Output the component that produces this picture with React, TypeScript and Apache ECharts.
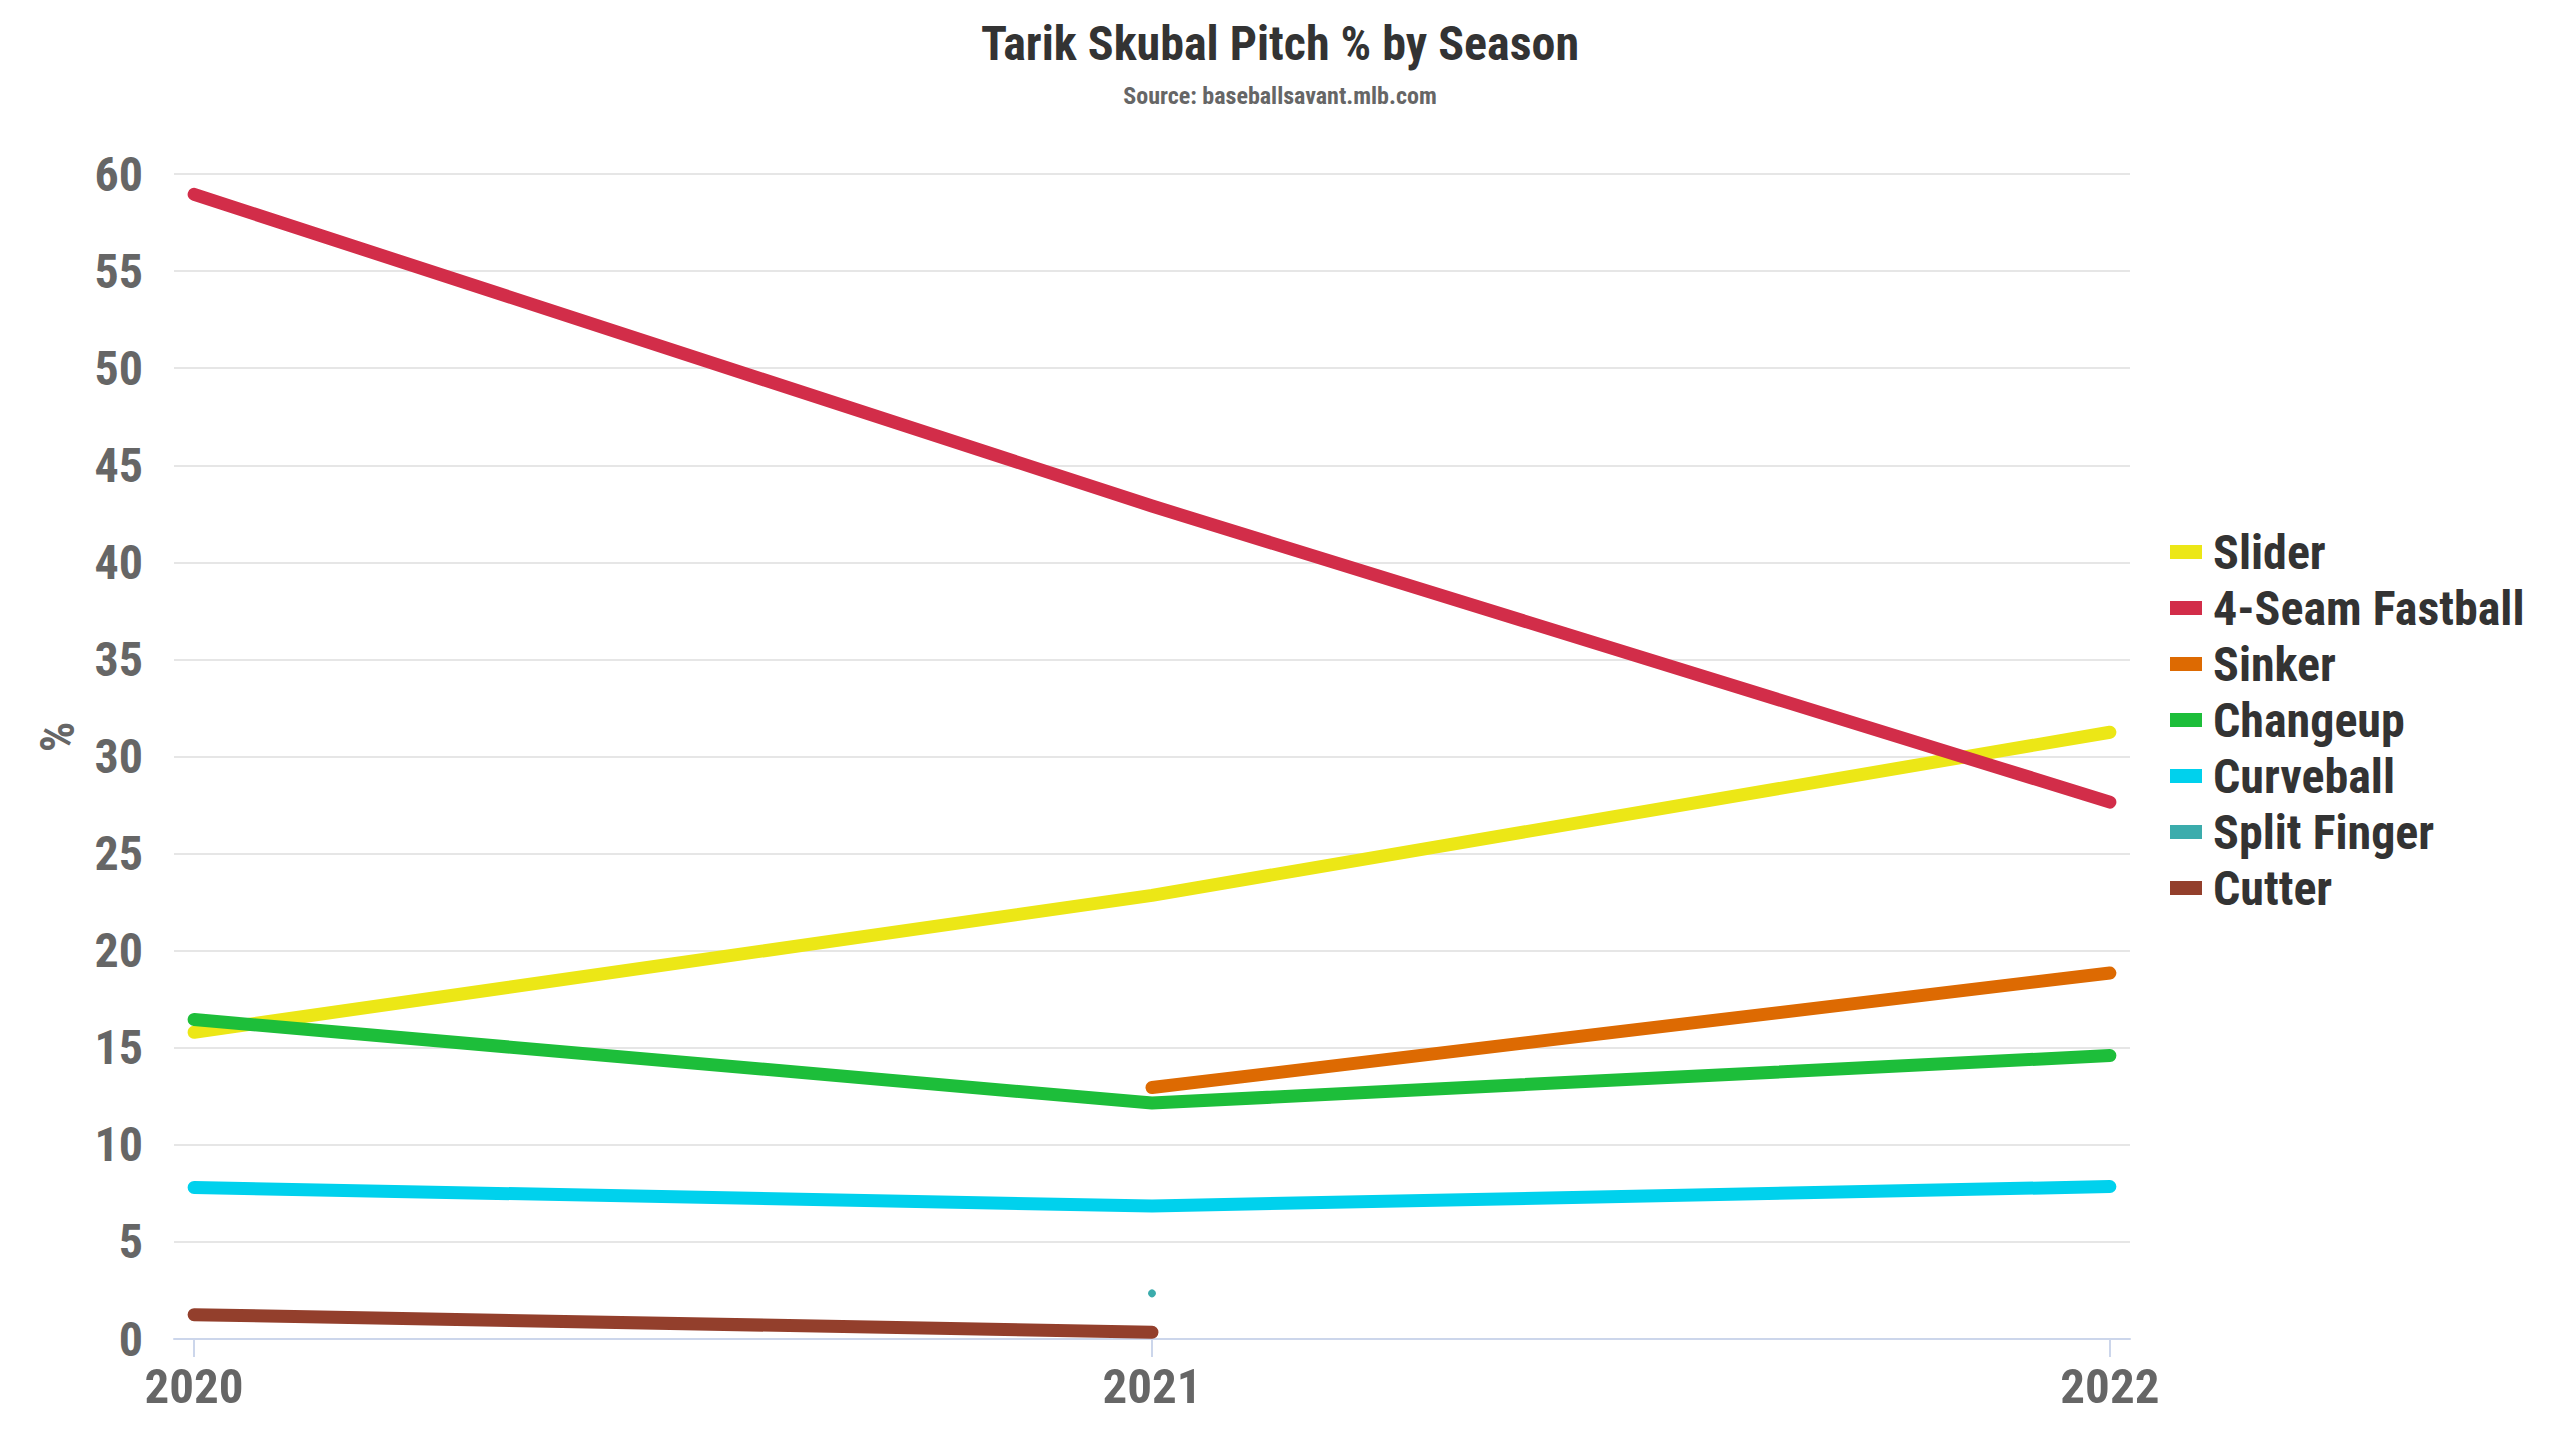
import React, { useEffect, useRef } from "react";
import * as echarts from "echarts";

const TITLE = "Tarik Skubal Pitch % by Season";
const SUBTITLE = "Source: baseballsavant.mlb.com";
const Y_NAME = "%";

const years = [2020, 2021, 2022];
const seriesNames = ["Slider", "4-Seam Fastball", "Sinker", "Changeup", "Curveball", "Split Finger", "Cutter"];
const seriesColors = ["#ece716", "#d22d49", "#dd6a02", "#1dbe3a", "#00d1ed", "#3bacac", "#933f2c"];

const slider = [15.8, 22.85, 31.25];
const fourSeam = [58.95, 42.9, 27.65];
const sinker = [null, 12.95, 18.85];
const changeup = [16.45, 12.15, 14.6];
const curveball = [7.8, 6.85, 7.85];
const splitFinger = [null, 2.35, null];
const cutter = [1.25, 0.35, null];

const seriesValues = [slider, fourSeam, sinker, changeup, curveball, splitFinger, cutter];

const FONT = '"Roboto Condensed", "Liberation Sans Narrow", "DejaVu Sans Condensed", "Arial Narrow", Roboto, sans-serif';

export default function App() {
  const ref = useRef<HTMLDivElement>(null);

  useEffect(() => {
    document.body.style.margin = "0";
    const chart = echarts.init(ref.current!, undefined, { renderer: "svg" });

    const series = seriesNames.map((name, i) => {
      const pts = years
        .map((y, j) => [y, seriesValues[i][j]])
        .filter((p) => p[1] !== null);
      const single = pts.length === 1;
      return {
        name,
        type: "line",
        data: pts,
        color: seriesColors[i],
        showSymbol: single,
        symbol: "circle",
        symbolSize: 8,
        lineStyle: { width: 13, color: seriesColors[i], cap: "round", join: "round" },
        itemStyle: { color: seriesColors[i] },
        emphasis: { disabled: true },
        z: 2,
      };
    });

    chart.setOption({
      animation: false,
      backgroundColor: "#ffffff",
      textStyle: { fontFamily: FONT },
      title: {
        text: TITLE,
        subtext: SUBTITLE,
        left: "center",
        top: 10,
        itemGap: 11,
        textStyle: { fontFamily: FONT, fontSize: 48, fontWeight: "bold", color: "#333333", lineHeight: 56 },
        subtextStyle: { fontFamily: FONT, fontSize: 24, fontWeight: "bold", color: "#666666", lineHeight: 28 },
      },
      legend: {
        orient: "vertical",
        left: 2165,
        top: 523,
        icon: "rect",
        itemWidth: 32,
        itemHeight: 14,
        itemGap: 8,
        selectedMode: false,
        data: seriesNames,
        textStyle: { fontFamily: FONT, fontSize: 48, fontWeight: "bold", color: "#333333", lineHeight: 46, padding: [0, 0, 0, 6] },
      },
      grid: { left: 174, right: 430, top: 174, bottom: 101, containLabel: false },
      xAxis: {
        type: "value",
        min: 2019.979,
        max: 2022.021,
        splitLine: { show: false },
        axisLine: { show: true, lineStyle: { color: "#ccd6eb", width: 2 } },
        axisTick: { show: true, customValues: years, length: 18, lineStyle: { color: "#ccd6eb", width: 2 } },
        axisLabel: {
          customValues: years,
          formatter: (v: number) => String(Math.round(v)),
          fontFamily: FONT,
          fontSize: 49,
          fontWeight: "bold",
          color: "#666666",
          margin: 23,
        },
      },
      yAxis: {
        type: "value",
        min: 0,
        max: 60,
        interval: 5,
        name: Y_NAME,
        nameLocation: "middle",
        nameGap: 93,
        nameTextStyle: { fontFamily: FONT, fontSize: 48, fontWeight: "bold", color: "#666666", padding: [0, 0, 0, 39] },
        axisLine: { show: false },
        axisTick: { show: false },
        splitLine: { show: true, lineStyle: { color: "#e6e6e6", width: 2 } },
        axisLabel: { fontFamily: FONT, fontSize: 48, fontWeight: "bold", color: "#666666", margin: 31 },
      },
      series,
    });

    return () => chart.dispose();
  }, []);

  return <div ref={ref} style={{ width: 2560, height: 1440 }} />;
}
